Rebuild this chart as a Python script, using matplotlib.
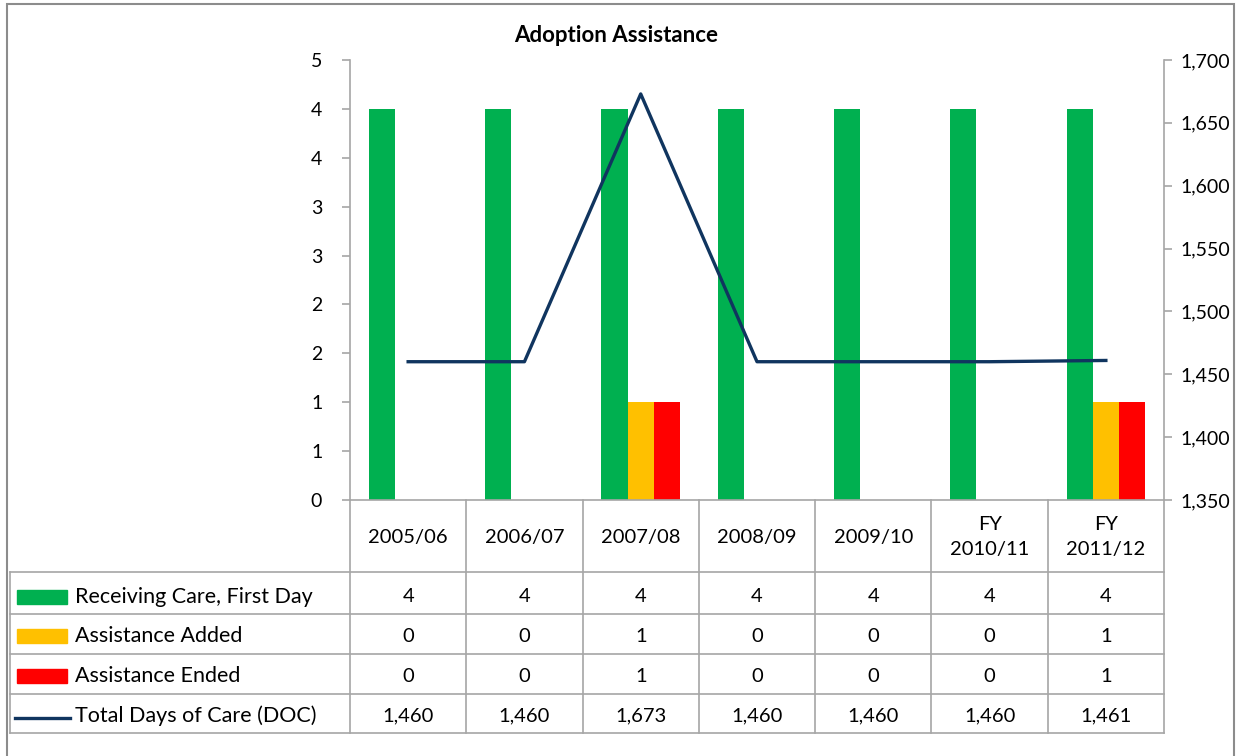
import numpy as np
import matplotlib.pyplot as plt
import matplotlib.transforms as mtransforms
from matplotlib.patches import Rectangle
from matplotlib.lines import Line2D
from matplotlib.ticker import FuncFormatter

plt.rcParams['font.family'] = ['Lato', 'DejaVu Sans']

categories = ["2005/06", "2006/07", "2007/08", "2008/09", "2009/10", "FY\n2010/11", "FY\n2011/12"]
receiving = [4, 4, 4, 4, 4, 4, 4]
added = [0, 0, 1, 0, 0, 0, 1]
ended = [0, 0, 1, 0, 0, 0, 1]
doc = [1460, 1460, 1673, 1460, 1460, 1460, 1461]

series_names = ["Receiving Care, First Day", "Assistance Added", "Assistance Ended", "Total Days of Care (DOC)"]
green, yellow, red, navy = "#00B050", "#FFC000", "#FF0000", "#10355F"
grid_c = "#A6A6A6"

W, H = 1249, 756
fig = plt.figure(figsize=(W / 100, H / 100), dpi=100)


def fx(px):
    return px / W


def fy(py):
    return 1 - py / H


# plot area in pixels: x 350..1164, y 60..500
ax = fig.add_axes([fx(350), fy(500), fx(1164) - fx(350), fy(60) - fy(500)])
ax2 = ax.twinx()

x = np.arange(len(categories))
w = 0.225
ax.bar(x - w, receiving, w, color=green, zorder=2)
ax.bar(x, added, w, color=yellow, zorder=2)
ax.bar(x + w, ended, w, color=red, zorder=2)
ax2.plot(x, doc, color=navy, lw=2.4, zorder=3)

ax.set_xlim(-0.5, len(categories) - 0.5)
ax.set_ylim(0, 4.5)
ax.set_yticks(np.arange(0, 4.51, 0.5))
ax.yaxis.set_major_formatter(FuncFormatter(lambda v, p: "%d" % int(np.floor(v + 0.5))))
ax2.set_ylim(1350, 1700)
ax2.set_yticks(np.arange(1350, 1701, 50))
ax2.yaxis.set_major_formatter(FuncFormatter(lambda v, p: "{:,.0f}".format(v)))
ax.set_xticks([])

for a in (ax, ax2):
    a.spines['top'].set_visible(False)
    for s in ('left', 'right', 'bottom'):
        a.spines[s].set_color(grid_c)
        a.spines[s].set_linewidth(1.2)
    a.tick_params(axis='y', length=6, color=grid_c, width=1.2, labelsize=14, pad=14, labelcolor="#000000")
ax.spines['right'].set_visible(False)
ax2.spines['left'].set_visible(False)
ax2.spines['bottom'].set_visible(False)
ax2.tick_params(axis='y', pad=6)

fig.text(fx(616), fy(36), "Adoption Assistance", ha='center', va='center',
         fontsize=16, fontweight='bold')

# data table below the plot
blend = mtransforms.blended_transform_factory(ax.transData, fig.transFigure)
row_lines = [572, 614, 654, 694, 733]
right_edge = fx(1164)
for b in np.arange(-0.5, len(categories), 1.0):
    fig.add_artist(Line2D([b, b], [fy(500), fy(733)], transform=blend, color=grid_c, lw=1.2))
for py in row_lines:
    fig.add_artist(Line2D([fx(10), right_edge], [fy(py), fy(py)], transform=fig.transFigure,
                          color=grid_c, lw=1.2))
fig.add_artist(Line2D([fx(10), fx(10)], [fy(572), fy(733)], transform=fig.transFigure,
                      color=grid_c, lw=1.2))

for i, c in enumerate(categories):
    fig.text(i, fy(537), c, transform=blend, ha='center', va='center', fontsize=14.5,
             linespacing=1.6, multialignment='center')

rows = [receiving, added, ended, ["{:,}".format(v) for v in doc]]
row_centers = [597, 636, 676, 716]
for vals, py in zip(rows, row_centers):
    for i, v in enumerate(vals):
        fig.text(i, fy(py), str(v), transform=blend, ha='center', va='center', fontsize=14.5)

# legend keys in the table
for col, py in zip([green, yellow, red], row_centers[:3]):
    fig.add_artist(Rectangle((fx(17), fy(py + 7)), fx(67) - fx(17), fy(py - 7) - fy(py + 7),
                             transform=fig.transFigure, color=col))
fig.add_artist(Line2D([fx(15), fx(70)], [fy(718), fy(718)], transform=fig.transFigure,
                      color=navy, lw=2.4))
for name, py in zip(series_names, row_centers):
    fig.text(fx(75), fy(py), name, ha='left', va='center', fontsize=15.5)

# outer chart frame
fig.add_artist(Rectangle((fx(7), -0.1), fx(1234) - fx(7), fy(4) + 0.1,
                         transform=fig.transFigure, fill=False, edgecolor="#8C8C8C", lw=1.5))

fig.savefig("out.png", dpi=100)
